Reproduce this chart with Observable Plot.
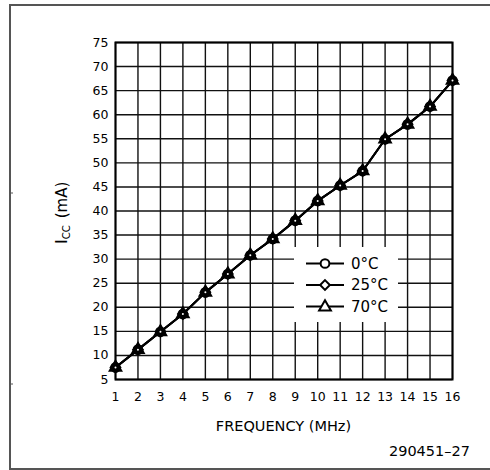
<!DOCTYPE html>
<html>
<head>
<meta charset="utf-8">
<script src="https://cdn.jsdelivr.net/npm/d3@7"></script>
<script src="https://cdn.jsdelivr.net/npm/@observablehq/plot@0.6"></script>
<style>
  html, body { margin: 0; padding: 0; background: #fff; }
  #chart { position: relative; width: 490px; height: 470px; }
</style>
</head>
<body>
<div id="chart"></div>
<script>
// ---- data ----
const frequencyMHz = [1, 2, 3, 4, 5, 6, 7, 8, 9, 10, 11, 12, 13, 14, 15, 16];
const icc0C  = [7.5, 11.2, 14.9, 18.6, 23.1, 26.9, 30.8, 34.2, 38.0, 42.1, 45.3, 48.3, 54.9, 58.0, 61.7, 67.1];
const icc25C = [7.5, 11.2, 14.9, 18.6, 23.1, 26.9, 30.8, 34.2, 38.0, 42.1, 45.3, 48.3, 54.9, 58.0, 61.7, 67.1];
const icc70C = [7.5, 11.2, 14.9, 18.6, 23.1, 26.9, 30.8, 34.2, 38.0, 42.1, 45.3, 48.3, 54.9, 58.0, 61.7, 67.1];
const seriesNames = ["0°C", "25°C", "70°C"];
const seriesSymbols = ["circle", "diamond2", "triangle"];
const xTicks = [1, 2, 3, 4, 5, 6, 7, 8, 9, 10, 11, 12, 13, 14, 15, 16];
const yTicks = [5, 10, 15, 20, 25, 30, 35, 40, 45, 50, 55, 60, 65, 70, 75];
const xLabel = "FREQUENCY (MHz)";
const figureId = "290451–27";

const seriesValues = [icc0C, icc25C, icc70C];
const rows = seriesValues.flatMap((vals, s) =>
  frequencyMHz.map((f, i) => ({ f, v: vals[i], s: seriesNames[s] })));

const FONT = "DejaVu Sans, sans-serif";

const plot = Plot.plot({
  width: 490,
  height: 470,
  marginLeft: 115,
  marginRight: 38,
  marginTop: 42,
  marginBottom: 91,
  style: { fontFamily: FONT, fontSize: "12.5px", color: "#000", background: "transparent" },
  x: { domain: [1, 16], ticks: xTicks, label: null, tickSize: 0, tickPadding: 13 },
  y: { domain: [5, 75], ticks: yTicks, label: null, tickSize: 0, tickPadding: 7 },
  symbol: { domain: seriesNames, range: seriesSymbols },
  marks: [
    Plot.gridX(xTicks, { stroke: "#111", strokeOpacity: 1, strokeWidth: 1.4 }),
    Plot.gridY(yTicks, { stroke: "#111", strokeOpacity: 1, strokeWidth: 1.4 }),
    Plot.frame({ stroke: "#000", strokeWidth: 2 }),
    Plot.line(rows, { x: "f", y: "v", z: "s", stroke: "#000", strokeWidth: 2 }),
    Plot.dot(rows, { x: "f", y: "v", symbol: "s", r: 4.6, fill: "#000", stroke: "#000", strokeWidth: 1.5 }),
    Plot.dot(rows.filter(d => d.s === seriesNames[0]), { x: "f", y: "v", r: 1, fill: "#fff" })
  ]
});

const svg = d3.select(plot);

// outer figure frame (open at right edge, as in the scan)
const frame = svg.insert("g", ":first-child");
frame.append("path").attr("d", "M490,5 H10 V469 H490").attr("fill", "none")
  .attr("stroke", "#555").attr("stroke-width", 2);
frame.append("line").attr("x1", 10).attr("x2", 13).attr("y1", 193).attr("y2", 193).attr("stroke", "#555");
frame.append("line").attr("x1", 10).attr("x2", 13).attr("y1", 384).attr("y2", 384).attr("stroke", "#555");

// legend (white box over the grid)
const lg = svg.append("g").attr("font-family", FONT).attr("text-anchor", "start");
lg.append("rect").attr("x", 294).attr("y", 247).attr("width", 104).attr("height", 75).attr("fill", "#fff");
const legendY = [263.5, 285, 306.5];
const symGen = d3.symbol().size(60);
const d3Syms = { circle: d3.symbolCircle, diamond2: d3.symbolDiamond2, triangle: d3.symbolTriangle };
seriesNames.forEach((name, i) => {
  const y = legendY[i];
  lg.append("line").attr("x1", 306).attr("x2", 344).attr("y1", y).attr("y2", y)
    .attr("stroke", "#000").attr("stroke-width", 2);
  lg.append("path").attr("transform", `translate(325,${y + (seriesSymbols[i] === "triangle" ? 0.5 : 0)})`)
    .attr("d", symGen.type(d3Syms[seriesSymbols[i]])())
    .attr("fill", "#fff").attr("stroke", "#000").attr("stroke-width", 2);
  lg.append("text").attr("x", 351).attr("y", y).attr("dy", "0.36em")
    .attr("font-size", 15).attr("fill", "#000").text(name);
});

// y axis title with subscript
const yt = svg.append("text").attr("transform", "translate(67,244) rotate(-90)")
  .attr("text-anchor", "start").attr("font-family", FONT).attr("fill", "#000");
yt.append("tspan").attr("font-size", 16).text("I");
yt.append("tspan").attr("font-size", 10).attr("dy", 3).text("CC");
yt.append("tspan").attr("font-size", 15).attr("dy", -3).attr("dx", 7).text("(mA)");

// x axis title
svg.append("text").attr("x", 283.5).attr("y", 431).attr("text-anchor", "middle")
  .attr("font-family", FONT).attr("font-size", 14.5).attr("fill", "#000").text(xLabel);

// figure id
svg.append("text").attr("x", 470).attr("y", 456).attr("text-anchor", "end")
  .attr("font-family", FONT).attr("font-size", 14.5).attr("fill", "#000").text(figureId);

document.getElementById("chart").appendChild(plot);
</script>
</body>
</html>
